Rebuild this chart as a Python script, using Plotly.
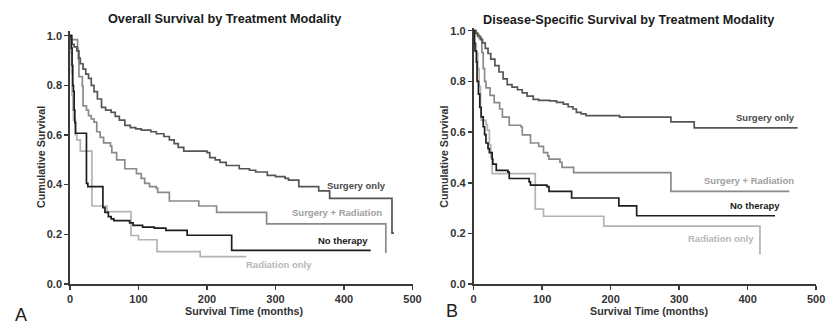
import plotly.graph_objects as go

W, H = 835, 329

# ---------------- DATA ----------------
# Panel A: Overall survival
os_surg_t = [0, 2, 3, 6, 10, 13, 15, 19, 23, 27, 31, 35, 40, 46, 52, 60, 66, 72, 80, 88, 96, 104, 118, 126, 137, 145, 152, 158, 166, 200, 204, 212, 219, 228, 247, 262, 271, 288, 300, 314, 319, 334, 363, 379, 470, 473]
os_surg_s = [1.0, 0.985, 0.965, 0.955, 0.939, 0.91, 0.887, 0.865, 0.845, 0.828, 0.80, 0.775, 0.745, 0.711, 0.70, 0.691, 0.675, 0.66, 0.639, 0.63, 0.625, 0.62, 0.613, 0.605, 0.594, 0.58, 0.565, 0.55, 0.535, 0.529, 0.509, 0.50, 0.49, 0.477, 0.464, 0.458, 0.451, 0.4375, 0.432, 0.425, 0.418, 0.392, 0.375, 0.345, 0.205, 0.205]

os_sr_t = [0, 3, 11, 12, 13, 18, 19, 24, 27, 31, 35, 39, 44, 49, 59, 61, 68, 80, 97, 104, 109, 116, 126, 128, 145, 188, 214, 287, 461]
os_sr_s = [1.0, 0.984, 0.95, 0.906, 0.835, 0.796, 0.717, 0.70, 0.678, 0.665, 0.652, 0.613, 0.59, 0.568, 0.555, 0.529, 0.50, 0.464, 0.444, 0.425, 0.405, 0.392, 0.385, 0.369, 0.334, 0.314, 0.288, 0.242, 0.125]

os_none_t = [0, 2, 3, 4, 5, 6, 7, 8, 24, 26, 48, 51, 56, 60, 64, 87, 92, 106, 123, 140, 171, 236, 439]
os_none_s = [1.0, 0.95, 0.88, 0.80, 0.776, 0.70, 0.65, 0.607, 0.405, 0.392, 0.307, 0.288, 0.271, 0.262, 0.255, 0.246, 0.236, 0.229, 0.225, 0.216, 0.196, 0.1355, 0.1355]

os_rad_t = [0, 1, 2, 3, 4, 5, 8, 10, 15, 32, 54, 89, 100, 127, 190, 257]
os_rad_s = [1.0, 0.93, 0.85, 0.76, 0.70, 0.66, 0.60, 0.58, 0.535, 0.314, 0.291, 0.195, 0.178, 0.13, 0.11, 0.11]

# Panel B: Disease-specific survival
ds_surg_t = [0, 3, 6, 10, 13, 17, 21, 25, 31, 37, 43, 49, 56, 64, 71, 78, 87, 95, 111, 121, 131, 138, 145, 150, 157, 164, 213, 288, 322, 473]
ds_surg_s = [1.0, 0.99, 0.978, 0.965, 0.952, 0.93, 0.91, 0.888, 0.862, 0.837, 0.81, 0.787, 0.777, 0.767, 0.755, 0.742, 0.729, 0.725, 0.723, 0.717, 0.71, 0.70, 0.691, 0.678, 0.672, 0.665, 0.659, 0.64, 0.617, 0.617]

ds_sr_t = [0, 4, 8, 12, 14, 16, 18, 24, 30, 38, 42, 52, 69, 71, 83, 95, 102, 108, 110, 126, 129, 146, 288, 461]
ds_sr_s = [1.0, 0.985, 0.97, 0.914, 0.85, 0.80, 0.774, 0.745, 0.716, 0.691, 0.659, 0.627, 0.621, 0.589, 0.557, 0.544, 0.519, 0.506, 0.493, 0.481, 0.461, 0.44, 0.366, 0.366]

ds_none_t = [0, 1, 2, 4, 5, 7, 9, 11, 14, 16, 18, 21, 23, 27, 28, 33, 50, 52, 81, 83, 107, 110, 143, 212, 238, 440]
ds_none_s = [1.0, 0.95, 0.92, 0.876, 0.80, 0.75, 0.697, 0.66, 0.621, 0.59, 0.557, 0.535, 0.519, 0.493, 0.474, 0.449, 0.442, 0.417, 0.404, 0.391, 0.385, 0.366, 0.34, 0.309, 0.27, 0.27]

ds_rad_t = [0, 2, 4, 6, 8, 10, 11, 18, 20, 23, 25, 27, 90, 102, 190, 418]
ds_rad_s = [1.0, 0.95, 0.914, 0.85, 0.78, 0.70, 0.646, 0.63, 0.608, 0.55, 0.50, 0.436, 0.296, 0.268, 0.229, 0.117]

series_names = ["Surgery only", "Surgery + Radiation", "No therapy", "Radiation only"]
x_ticks = [0, 100, 200, 300, 400, 500]
y_ticks = [0.0, 0.2, 0.4, 0.6, 0.8, 1.0]
titles = ["Overall Survival by Treatment Modality", "Disease-Specific Survival by Treatment Modality"]
x_title = "Survival Time (months)"
y_title = "Cumulative Survival"
panel_letters = ["A", "B"]

# ---------------- STYLE ----------------
line_colors = ["#555555", "#8a8a8a", "#1e1e1e", "#b3b3b3"]
label_colors = ["#4a4a4a", "#a0a0a0", "#1a1a1a", "#b8b8b8"]
FONT = "Arial, Liberation Sans, sans-serif"
AX = "#3a3a3a"

def px_x(p):
    return p / W

def px_y(p):
    return 1 - p / H

fig = go.Figure()

panels = [
    ([(os_surg_t, os_surg_s), (os_sr_t, os_sr_s), (os_none_t, os_none_s), (os_rad_t, os_rad_s)], "x", "y"),
    ([(ds_surg_t, ds_surg_s), (ds_sr_t, ds_sr_s), (ds_none_t, ds_none_s), (ds_rad_t, ds_rad_s)], "x2", "y2"),
]
for data, xa, ya in panels:
    for i in [3, 1, 0, 2]:
        t, s = data[i]
        fig.add_trace(go.Scatter(x=t, y=s, mode="lines", line=dict(color=line_colors[i], width=1.7, shape="hv"),
                                 name=series_names[i], xaxis=xa, yaxis=ya, showlegend=False, hoverinfo="skip"))

axis_common = dict(showline=True, linecolor=AX, linewidth=1.8, ticks="outside", ticklen=4, tickwidth=1.5,
                   tickcolor=AX, showgrid=False, zeroline=False,
                   tickfont=dict(family=FONT, size=11, color="#333", weight="bold"))

fig.update_layout(
    width=W, height=H, margin=dict(l=0, r=0, t=0, b=0), paper_bgcolor="white", plot_bgcolor="white",
    xaxis=dict(domain=[px_x(68), px_x(415.5)], range=[0, 500], tickvals=x_ticks, anchor="y", **axis_common),
    yaxis=dict(domain=[px_y(288.7), px_y(27.7)], range=[0, 1.0195], tickvals=y_ticks, tickformat=".1f", anchor="x", **axis_common),
    xaxis2=dict(domain=[px_x(477.5), px_x(825)], range=[0, 500], tickvals=x_ticks, anchor="y2", **axis_common),
    yaxis2=dict(domain=[px_y(289), px_y(25)], range=[0, 1.0096], tickvals=y_ticks, tickformat=".1f", anchor="x2", **axis_common),
)

ann = []
for txt, cx, cy in [(titles[0], 224.5, 15.7), (titles[1], 634.5, 16.7)]:
    ann.append(dict(text="<b>%s</b>" % txt, x=px_x(cx), y=px_y(cy), xref="paper", yref="paper",
                    xanchor="center", yanchor="middle", showarrow=False, font=dict(family=FONT, size=12.7, color="#1a1a1a")))
for cx in [245, 655]:
    ann.append(dict(text="<b>%s</b>" % x_title, x=px_x(cx), y=px_y(316.7), xref="paper", yref="paper", xanchor="center",
                    yanchor="middle", showarrow=False, font=dict(family=FONT, size=10.7, color="#333")))
for cx in [38.3, 448]:
    ann.append(dict(text="<b>%s</b>" % y_title, x=px_x(cx), y=px_y(158), xref="paper", yref="paper", xanchor="center",
                    yanchor="middle", showarrow=False, textangle=-90, font=dict(family=FONT, size=10.7, color="#333")))
for txt, cx, cy in [(panel_letters[0], 18, 321), (panel_letters[1], 456, 316.5)]:
    ann.append(dict(text=txt, x=px_x(cx), y=px_y(cy), xref="paper", yref="paper", xanchor="center",
                    yanchor="middle", showarrow=False, font=dict(family=FONT, size=18, color="#222")))
lab_pos = [
    ("x", "y", [(418.7, 0.396), (390, 0.288), (398.6, 0.173), (305, 0.08)]),
    ("x2", "y2", [(426.6, 0.657), (402, 0.41), (410.8, 0.309), (360.4, 0.181)]),
]
for xa, ya, pos in lab_pos:
    for i, (lx, ly) in enumerate(pos):
        ann.append(dict(text="<b>%s</b>" % series_names[i], x=lx, y=ly, xref=xa, yref=ya, xanchor="center",
                        yanchor="middle", showarrow=False, font=dict(family=FONT, size=9.5, color=label_colors[i])))
fig.update_layout(annotations=ann)

fig.write_html("out.html", config={"displayModeBar": False, "staticPlot": True},
               post_script="document.body.style.margin='0px';document.body.style.overflow='hidden';")
